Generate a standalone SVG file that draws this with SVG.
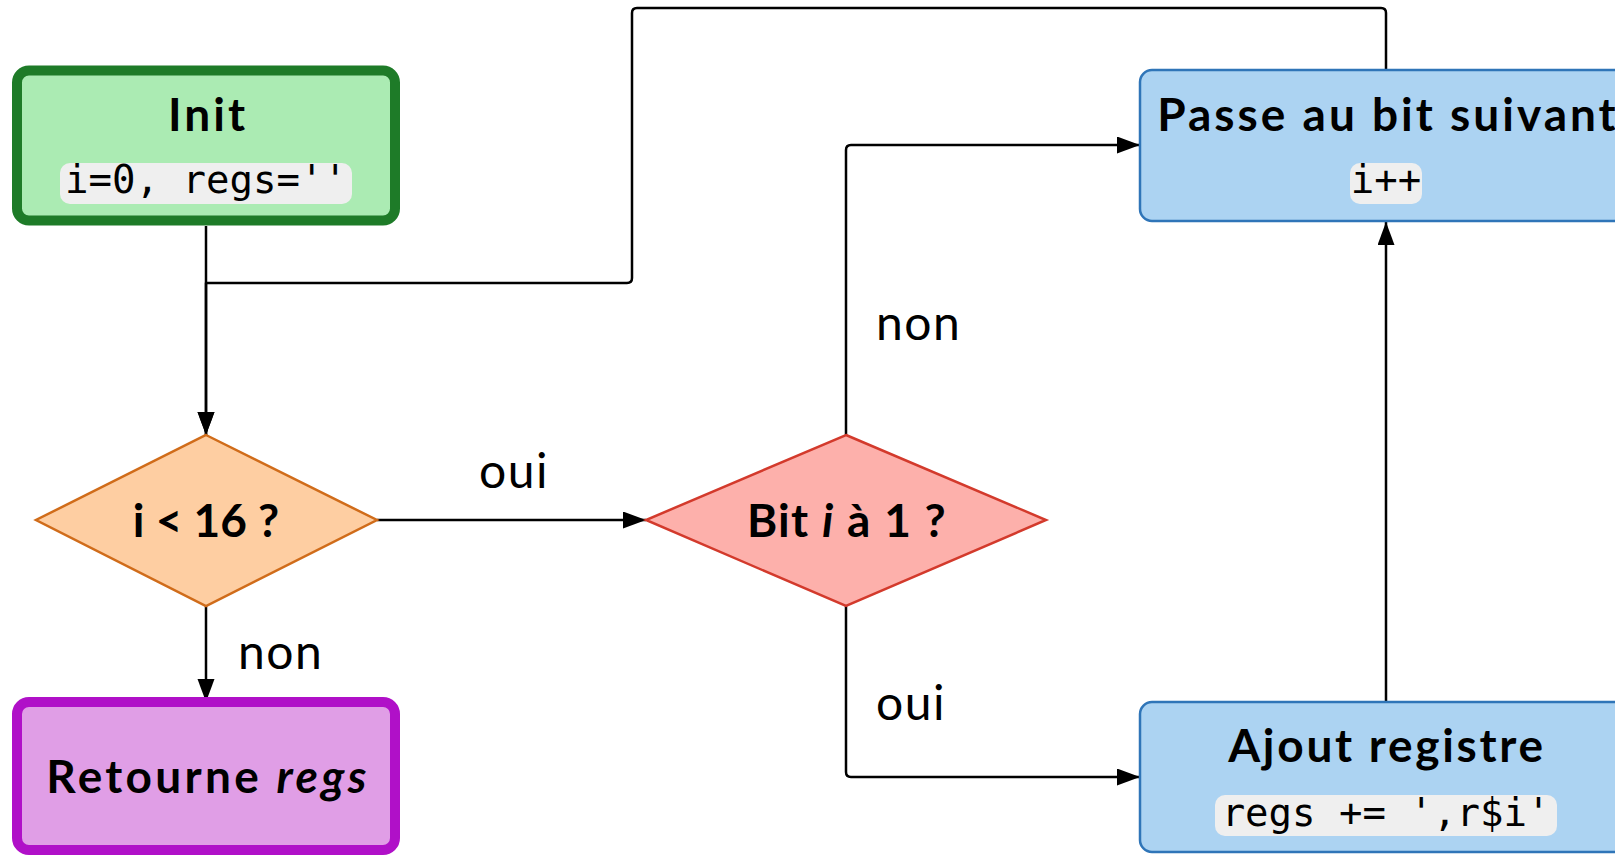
<svg xmlns="http://www.w3.org/2000/svg" width="1615" height="855" viewBox="0 0 1615 855">
<defs>
<style>
.title{font-family:Lato,"Noto Sans",sans-serif;font-weight:700;font-size:46px;fill:#000;text-anchor:middle}
.wide{letter-spacing:3px}
.lbl{font-family:Lato,"Noto Sans",sans-serif;font-size:48px;fill:#000;letter-spacing:1.5px}
.code{font-family:"DejaVu Sans Mono",monospace;font-size:39px;fill:#000;text-anchor:middle}
.codebg{fill:#efefef}
.edge{fill:none;stroke:#000;stroke-width:2.5;stroke-linejoin:round}
.blue{fill:#acd3f2;stroke:#2f75b8;stroke-width:2.5}
</style>
<marker id="arr" markerUnits="userSpaceOnUse" markerWidth="24" markerHeight="18" refX="23" refY="8.5" orient="auto">
<path d="M0,0 L23,8.5 L0,17 z" fill="#000"/>
</marker>
</defs>
<rect width="1615" height="855" fill="#fff"/>
<g id="connectors">
<path class="edge" d="M206,226 V435" marker-end="url(#arr)"/>
<path class="edge" d="M1386,69 V13 Q1386,8 1381,8 H637 Q632,8 632,13 V278 Q632,283 627,283 H206 V435" marker-end="url(#arr)"/>
<path class="edge" d="M377,520 H646" marker-end="url(#arr)"/>
<path class="edge" d="M206,606 V702" marker-end="url(#arr)"/>
<path class="edge" d="M846,435 V150 Q846,145 851,145 H1140" marker-end="url(#arr)"/>
<path class="edge" d="M846,606 V772 Q846,777 851,777 H1140" marker-end="url(#arr)"/>
<path class="edge" d="M1386,702 V222" marker-end="url(#arr)"/>
<text class="lbl" x="479" y="488">oui</text>
<text class="lbl" x="238" y="669">non</text>
<text class="lbl" x="876" y="340">non</text>
<text class="lbl" x="876" y="720">oui</text>
</g>
<g id="init">
<rect x="17" y="70.5" width="378" height="150" rx="12" fill="#abebb3" stroke="#1e7b28" stroke-width="10"/>
<text class="title wide" x="208" y="131">Init</text>
<rect class="codebg" x="60" y="163" width="292" height="41" rx="10"/>
<text class="code" x="206" y="193">i=0, regs=''</text>
</g>
<g id="cond16">
<polygon points="206,435 377,520 206,606 36,520" fill="#fecea2" stroke="#d06c1a" stroke-width="2.5"/>
<text class="title" x="206" y="537">i &lt; 16 ?</text>
</g>
<g id="retourne">
<rect x="17" y="702" width="378" height="148" rx="12" fill="#e09ee6" stroke="#b010c8" stroke-width="10"/>
<text class="title" x="208" y="793" style="letter-spacing:3.3px">Retourne <tspan font-style="italic">regs</tspan></text>
</g>
<g id="bit">
<polygon points="846,435 1046,520 846,606 646,520" fill="#fdb0ab" stroke="#d33a2c" stroke-width="2.5"/>
<text class="title" x="847" y="537" style="letter-spacing:1.3px">Bit <tspan font-style="italic">i</tspan> à 1 ?</text>
</g>
<g id="passe">
<rect class="blue" x="1140" y="70" width="492" height="151" rx="12"/>
<text class="title wide" x="1388" y="131">Passe au bit suivant</text>
<rect class="codebg" x="1350" y="163" width="72" height="41" rx="10"/>
<text class="code" x="1386" y="193">i++</text>
</g>
<g id="ajout">
<rect class="blue" x="1140" y="702" width="492" height="150" rx="12"/>
<text class="title" x="1387" y="762" style="letter-spacing:2.7px">Ajout registre</text>
<rect class="codebg" x="1215" y="795" width="342" height="41" rx="10"/>
<text class="code" x="1386" y="826">regs += ',r$i'</text>
</g>
</svg>
